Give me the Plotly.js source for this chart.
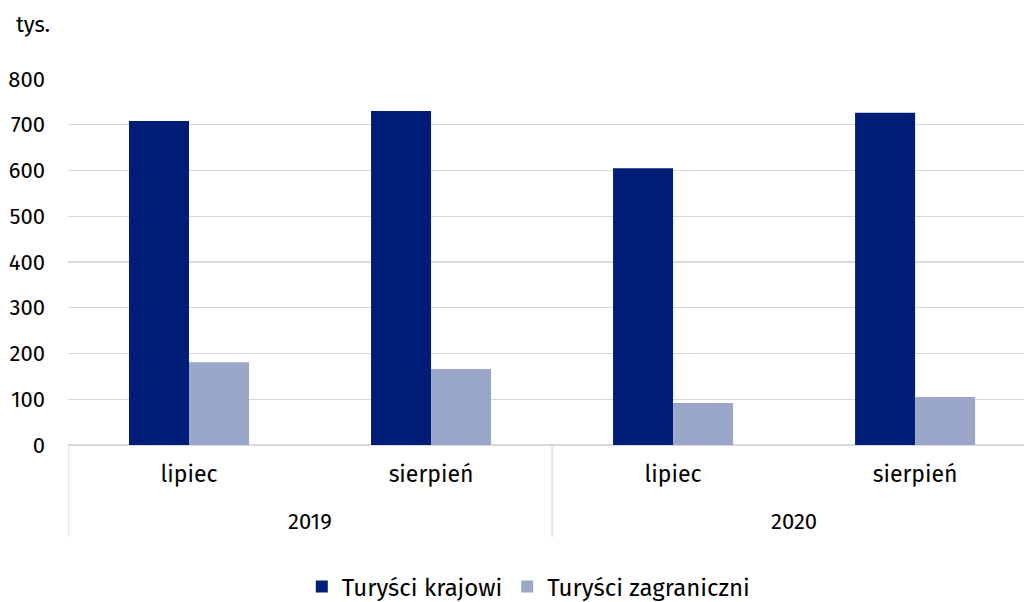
<!DOCTYPE html>
<html><head><meta charset="utf-8">
<script src="https://cdn.plot.ly/plotly-3.0.1.min.js"></script>
<style>html,body{margin:0;padding:0;background:#fff}#c{width:1024px;height:602px}</style>
</head><body><div id="c"></div>
<script>
const months = ["lipiec", "sierpień", "lipiec", "sierpień"];
const years = ["2019", "2020"];
const domestic = [708, 730, 605, 726];
const foreign = [181, 166, 92, 105];
const seriesNames = ["Turyści krajowi", "Turyści zagraniczni"];

const xs = months.map((m, i) => i);
const FONT = "Fira Sans, Noto Sans, sans-serif";
const FS = 22;
const FL = 23;

const traces = [
  {type: "bar", x: xs, y: domestic, name: seriesNames[0], marker: {color: "#001E78"}},
  {type: "bar", x: xs, y: foreign, name: seriesNames[1], marker: {color: "#9BA7C9"}}
];

const shapes = [];
[-0.5, 1.5, 3.5].forEach(v => shapes.push({type: "line", xref: "x", yref: "paper", x0: v, x1: v, y0: 0, y1: -0.252, line: {color: "#D9D9D9", width: 1.3}}));

const annotations = years.map((y, i) => ({
  text: y, xref: "x", yref: "paper", x: i * 2 + 0.5, y: -0.21, yanchor: "middle", showarrow: false,
  font: {family: FONT, size: FS, color: "#000"}
}));
annotations.push({text: "tys.", xref: "paper", yref: "paper", x: -0.057, y: 1.148, xanchor: "left", yanchor: "middle", showarrow: false, font: {family: FONT, size: FS, color: "#000"}});

const layout = {
  width: 1024, height: 602,
  margin: {l: 68, r: 0, t: 79, b: 157, autoexpand: false},
  paper_bgcolor: "#fff", plot_bgcolor: "#fff",
  barmode: "group", bargap: 0.504, bargroupgap: 0,
  font: {family: FONT, size: FS, color: "#000"},
  xaxis: {range: [-0.5, 3.45], tickvals: xs, ticktext: months, showgrid: false, zeroline: false,
          showline: false, ticks: "", tickfont: {size: FL}, ticklabelstandoff: 13, fixedrange: true, automargin: false},
  yaxis: {range: [0, 800], dtick: 100, showgrid: true, gridcolor: "#D9D9D9", gridwidth: 1.3,
          zeroline: true, zerolinecolor: "#D9D9D9", zerolinewidth: 1.3, showline: false, ticks: "",
          ticklabelstandoff: 22, tickfont: {size: FS}, automargin: false},
  legend: {orientation: "h", xref: "paper", x: 0.482, xanchor: "center", yref: "container", y: 0.025, yanchor: "middle", font: {size: 24},
           itemwidth: 30, traceorder: "normal"},
  showlegend: true,
  shapes: shapes,
  annotations: annotations
};

Plotly.newPlot("c", traces, layout, {staticPlot: true});
</script></body></html>
